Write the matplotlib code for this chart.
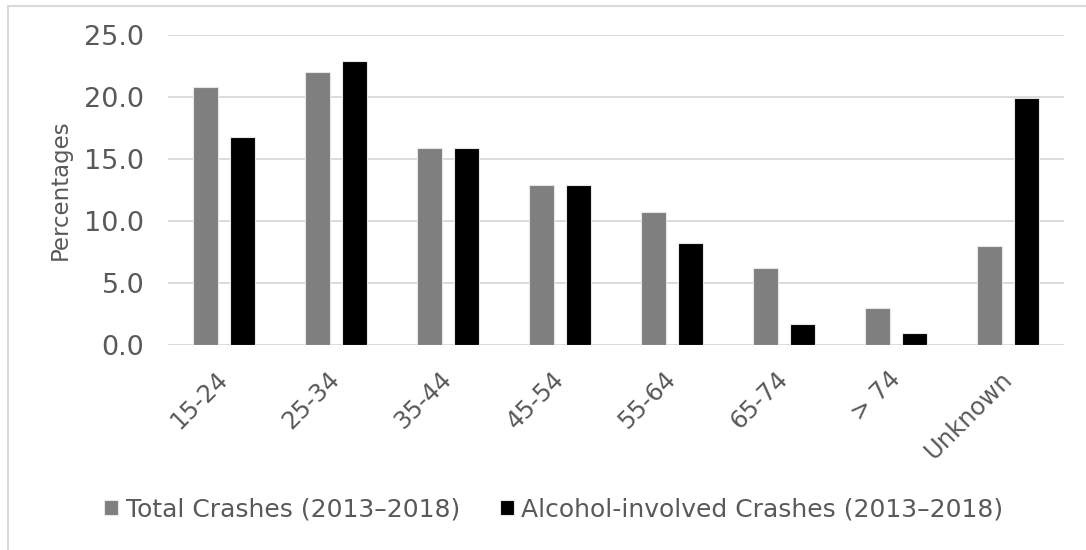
import matplotlib.pyplot as plt
import numpy as np
from matplotlib.patches import Rectangle
from matplotlib.ticker import FormatStrFormatter
from matplotlib.transforms import ScaledTranslation

age_groups = ['15-24', '25-34', '35-44', '45-54', '55-64', '65-74', '> 74', 'Unknown']
total_crashes = [20.8, 22.0, 15.9, 12.95, 10.7, 6.2, 2.95, 7.95]
alcohol_crashes = [16.8, 22.95, 15.9, 12.95, 8.25, 1.7, 1.0, 19.9]

grid_color = '#d9d9d9'
text_color = '#595959'

fig = plt.figure(figsize=(10.86, 5.5), dpi=100)
ax = fig.add_axes([0.1547, 0.3727, 0.8253, 0.5633])

x = np.arange(len(age_groups))
w = 0.225
ax.bar(x - 0.165, total_crashes, w, color='#7f7f7f', edgecolor='#e6e6e6', lw=0.8,
       label='Total Crashes (2013\u20132018)', zorder=3)
ax.bar(x + 0.165, alcohol_crashes, w, color='#000000', edgecolor='#e6e6e6', lw=0.8,
       label='Alcohol-involved Crashes (2013\u20132018)', zorder=3)

ax.set_xlim(-0.5, len(age_groups) - 0.5)
ax.set_ylim(0, 25)
ax.set_yticks(np.arange(0, 25.1, 5))
ax.yaxis.set_major_formatter(FormatStrFormatter('%.1f'))
ax.grid(axis='y', color=grid_color, lw=1.3, zorder=0)
for s in ax.spines.values():
    s.set_visible(False)
ax.tick_params(length=0, colors=text_color)
ax.tick_params(axis='y', labelsize=19.5, pad=17)
ax.set_xticks(x)
ax.set_xticklabels(age_groups, rotation=45, ha='right', rotation_mode='anchor', fontsize=17.5)
ax.tick_params(axis='x', pad=16)
# nudge the slanted labels so they end under the group centre
shift = ScaledTranslation(-6 / 72, 0, fig.dpi_scale_trans)
for lab in ax.get_xticklabels():
    lab.set_transform(lab.get_transform() + shift)

ax.set_ylabel('Percentages', color=text_color, fontsize=16.5)
ax.yaxis.set_label_coords(-0.107, 0.5)

fig.legend(loc='center', bbox_to_anchor=(0.51, 0.0745), ncol=2, frameon=False,
           fontsize=18, labelcolor=text_color, handlelength=0.55, handleheight=0.55,
           handletextpad=0.3, columnspacing=1.6)

# light outer frame around the chart area
fig.patches.append(Rectangle((8 / 1086, -0.1), 1.2, 1.1 - 6 / 550, transform=fig.transFigure,
                             fill=False, edgecolor=grid_color, lw=1.5))

fig.savefig('out.png', dpi=100)
